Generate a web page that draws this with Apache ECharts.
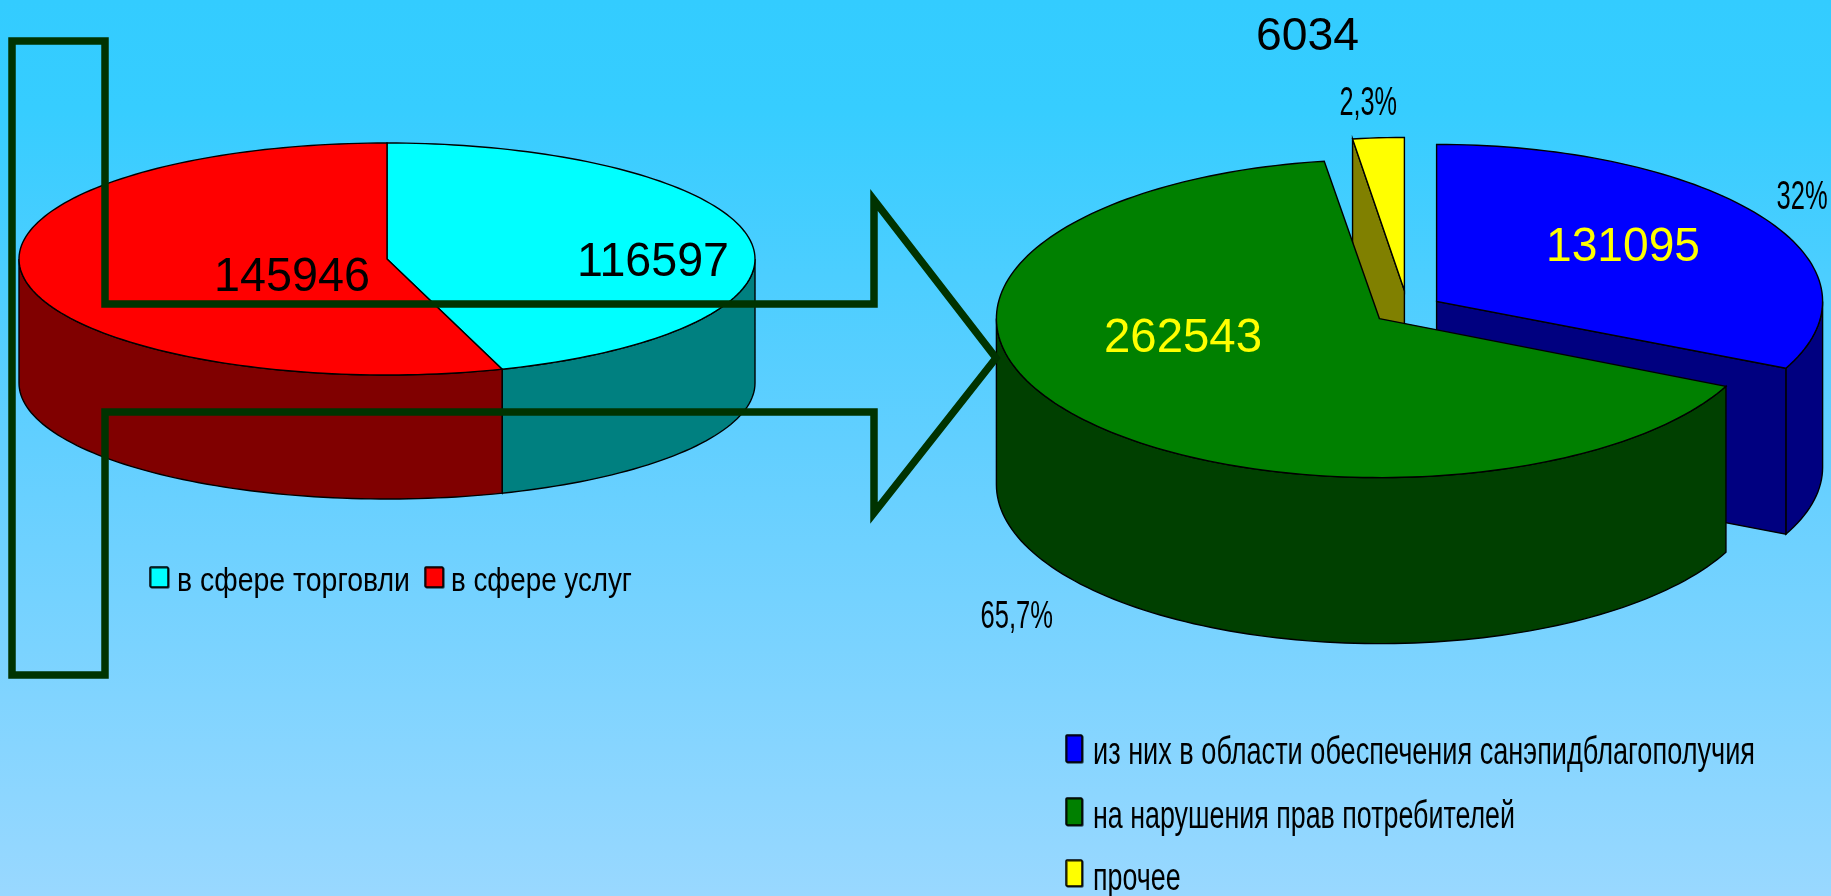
<!DOCTYPE html>
<html>
<head>
<meta charset="utf-8">
<style>html,body{margin:0;padding:0;background:#66ccff}#c{width:1831px;height:896px}</style>
<script src="https://cdn.jsdelivr.net/npm/echarts@6/dist/echarts.min.js"></script>
</head>
<body>
<div id="c"></div>
<script>
// ---- data ----
const leftCategories = ['в сфере торговли', 'в сфере услуг'];
const leftValues = [116597, 145946];
const rightCategories = ['из них в области обеспечения санэпидблагополучия', 'на нарушения прав потребителей', 'прочее'];
const rightValues = [131095, 262543, 6034];
const rightShares = [32, 65.7, 2.3];
const rightShareLabels = ['32%', '65,7%', '2,3%'];

// ---- layout and style ----
const FONT = '"Liberation Sans", Arial, sans-serif';
const leftSlices = [
  {cx: 387, cy: 259, rx: 368, ry: 116, depth: 124, top: '#00FFFF', side: '#008080'},
  {cx: 387, cy: 259, rx: 368, ry: 116, depth: 124, top: '#FF0000', side: '#800000'}
];
const rightSlices = [
  {cx: 1436.6, cy: 301.4, rx: 386, ry: 157, depth: 166, top: '#0000FF', side: '#000080'},
  {cx: 1379.4, cy: 318.6, rx: 383, ry: 159, depth: 166, top: '#008000', side: '#004000'},
  {cx: 1404.4, cy: 290.4, rx: 360, ry: 153, depth: 166, top: '#FFFF00', side: '#808000'}
];
const leftOrder = [0, 1];
const rightOrder = [0, 2, 1];
const leftPerspective = 5.5;   // degrees of angular foreshortening of the left pie
const rightPerspective = 0;
const arrowOutline = [[12,41],[105,41],[105,304],[874,304],[874,200],[996,358],[874,513],[874,412],[105,412],[105,675],[12,675]];

const textBoxes = [
  // text, left, right, baseline, font size, colour
  [String(leftValues[1]), 214, 370, 291, 48, '#000'],
  [String(leftValues[0]), 577, 729, 276, 48, '#000'],
  [String(rightValues[2]), 1256, 1359, 49.5, 46, '#000'],
  [rightShareLabels[2], 1339.4, 1397, 114.5, 40, '#000'],
  [rightShareLabels[0], 1776.6, 1827.7, 208, 40, '#000'],
  [String(rightValues[0]), 1546, 1700, 261, 49, '#FFFF00'],
  [String(rightValues[1]), 1104, 1262, 351.5, 49, '#FFFF00'],
  [rightShareLabels[1], 980.5, 1053, 627, 39, '#000'],
  [leftCategories[0], 177, 410, 590, 34, '#000'],
  [leftCategories[1], 451, 632, 590, 34, '#000'],
  [rightCategories[0], 1093, 1755, 763.5, 38, '#000'],
  [rightCategories[1], 1093, 1515, 827, 38, '#000'],
  [rightCategories[2], 1093, 1180.6, 889, 38, '#000']
];
const legendMarkers = [
  [150, 567, 18, 20, leftSlices[0].top],
  [425, 567, 18, 20, leftSlices[1].top],
  [1066, 735, 16, 27, rightSlices[0].top],
  [1066, 798, 16, 27, rightSlices[1].top],
  [1066, 860, 16, 26, rightSlices[2].top]
];

// ---- geometry: slice angles come from the values ----
function toRanges(values, warp) {
  const total = values.reduce((a, b) => a + b, 0);
  const f = t => t + warp * Math.sin(t * Math.PI / 180);
  let acc = 0;
  return values.map(v => {
    const a = acc / total * 360;
    acc += v;
    return [f(a), f(acc / total * 360)];
  });
}
function pt(g, deg, dy) {
  const t = deg * Math.PI / 180;
  return [g.cx + g.rx * Math.sin(t), g.cy - g.ry * Math.cos(t) + (dy || 0)];
}
function arc(g, a, b, dy) {
  const pts = [];
  const n = Math.max(2, Math.ceil(Math.abs(b - a) / 1.5));
  for (let i = 0; i <= n; i++) pts.push(pt(g, a + (b - a) * i / n, dy));
  return pts;
}
function poly(points, fill) {
  return {type: 'polygon', shape: {points}, style: {fill, stroke: '#000', lineWidth: 1.4}};
}
function pieSeries(values, slices, order, warp) {
  const ranges = toRanges(values, warp);
  const data = order.map(i => ({value: [ranges[i][0], ranges[i][1], i]}));
  return {
    type: 'custom',
    coordinateSystem: 'none',
    silent: true,
    z: 2,
    data,
    renderItem(params, api) {
      const a = api.value(0), b = api.value(1), g = slices[api.value(2)];
      const c = [g.cx, g.cy], d = g.depth;
      const children = [];
      const lo = Math.max(a, 90), hi = Math.min(b, 270);
      if (hi > lo) {
        children.push(poly(arc(g, lo, hi, 0).concat(arc(g, hi, lo, d)), g.side));
      }
      // cut faces that look toward the viewer
      [[b, Math.sin(b * Math.PI / 180) > 1e-6], [a, Math.sin(a * Math.PI / 180) < -1e-6]].forEach(([ang, vis]) => {
        if (!vis) return;
        const p = pt(g, ang, 0), q = pt(g, ang, d);
        children.push(poly([c, p, q, [g.cx, g.cy + d]], g.side));
      });
      children.push(poly([c].concat(arc(g, a, b, 0)), g.top));
      return {type: 'group', children};
    }
  };
}

// ---- text fitted to the measured width ----
const measure = document.createElement('canvas').getContext('2d');
function textEl(row) {
  const [text, left, right, baseline, size, fill] = row;
  measure.font = size + 'px ' + FONT;
  const w = measure.measureText(text).width;
  return {
    type: 'text', z: 110, silent: true,
    x: left, y: baseline - size * 0.3465 + 3.5,
    scaleX: (right - left) / w,
    style: {text, fill, font: size + 'px ' + FONT, textAlign: 'left', textVerticalAlign: 'middle'}
  };
}
function markerEl(m) {
  return {
    type: 'rect', z: 110, silent: true,
    shape: {x: m[0], y: m[1], width: m[2], height: m[3], r: 1},
    style: {fill: m[4], stroke: '#000', lineWidth: 1.5, shadowColor: 'rgba(0,0,0,0.6)', shadowBlur: 0, shadowOffsetX: 1, shadowOffsetY: 1}
  };
}

const chart = echarts.init(document.getElementById('c'), null, {width: 1831, height: 896, renderer: 'canvas'});
chart.setOption({
  animation: false,
  backgroundColor: {
    type: 'linear', x: 0, y: 0, x2: 0, y2: 1,
    colorStops: [
      {offset: 0, color: '#33CCFF'},
      {offset: 0.12, color: '#36CDFF'},
      {offset: 0.5, color: '#62CFFF'},
      {offset: 1, color: '#99D8FF'}
    ]
  },
  series: [
    pieSeries(leftValues, leftSlices, leftOrder, leftPerspective),
    pieSeries(rightShares, rightSlices, rightOrder, rightPerspective)
  ],
  graphic: {
    elements: [
      {
        type: 'polygon', z: 100, silent: true,
        shape: {points: arrowOutline},
        style: {fill: 'transparent', stroke: '#003300', lineWidth: 7.5, lineJoin: 'miter', miterLimit: 10}
      }
    ].concat(textBoxes.map(textEl), legendMarkers.map(markerEl))
  }
});
</script>
</body>
</html>
